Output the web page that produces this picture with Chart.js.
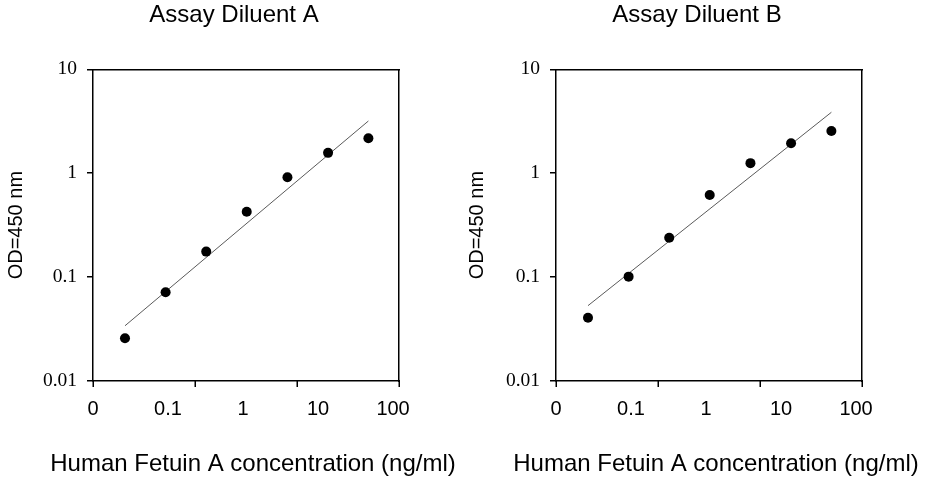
<!DOCTYPE html>
<html>
<head>
<meta charset="utf-8">
<script src="https://cdn.jsdelivr.net/npm/chart.js@4"></script>
<style>
html,body{margin:0;padding:0;background:#fff;width:926px;height:480px;overflow:hidden}
.p{position:absolute;top:0;height:480px}
#wa{left:0;width:468px}
#wb{left:468px;width:458px}
canvas{display:block}
</style>
</head>
<body>
<div class="p" id="wa"><canvas id="ca" width="468" height="480" style="width:468px;height:480px"></canvas></div>
<div class="p" id="wb"><canvas id="cb" width="458" height="480" style="width:458px;height:480px"></canvas></div>
<script>
// ---- data ----
const concentration = [0.0267, 0.0929, 0.323, 1.12, 3.91, 13.6, 46.9];
const odDiluentA = [0.0258, 0.0714, 0.176, 0.426, 0.913, 1.57, 2.17];
const odDiluentB = [0.0407, 0.101, 0.239, 0.617, 1.25, 1.94, 2.55];
const fitX = [0.0267, 46.9];
const fitDiluentA = [0.034, 3.18];
const fitDiluentB = [0.0531, 3.86];
const xTickValues = [0.01, 0.1, 1, 10, 100];
const xTickLabels = ['0', '0.1', '1', '10', '100'];
const yTickValues = [0.01, 0.1, 1, 10];
const yTickLabels = ['0.01', '0.1', '1', '10'];
const panelTitles = ['Assay Diluent A', 'Assay Diluent B'];
const xAxisTitle = 'Human Fetuin A concentration (ng/ml)';
const yAxisTitle = 'OD=450 nm';

const SANS = "'Liberation Sans', Arial, sans-serif";
const SERIF = "'Liberation Serif', 'Times New Roman', serif";
Chart.defaults.font.family = SANS;
Chart.defaults.color = '#000';

// tick marks on the x axis (evenly spaced, as in the original figure)
const xTickMarks = {
  id: 'xTickMarks',
  afterDraw(chart) {
    const a = chart.chartArea, ctx = chart.ctx;
    ctx.save();
    ctx.strokeStyle = '#000';
    ctx.lineWidth = 1.5;
    [0, 1/3, 2/3, 1].forEach(f => {
      const x = Math.round(a.left + f * (a.right - a.left)) + 0.25;
      ctx.beginPath();
      ctx.moveTo(x, a.bottom);
      ctx.lineTo(x, a.bottom + 6);
      ctx.stroke();
    });
    ctx.restore();
  }
};

// x axis title (wider than the plot, so drawn unconstrained)
const xTitle = {
  id: 'xTitle',
  afterDraw(chart, args, opts) {
    const a = chart.chartArea, ctx = chart.ctx;
    ctx.save();
    ctx.fillStyle = '#000';
    ctx.font = '24px ' + SANS;
    ctx.textAlign = 'center';
    ctx.textBaseline = 'middle';
    ctx.fillText(opts.text, (a.left + a.right) / 2 + 7, 464.5);
    ctx.restore();
  }
};

function makeChart(id, title, od, fit, g) {
  const border = {display: true, color: '#000', width: 1.5};
  return new Chart(document.getElementById(id), {
    type: 'scatter',
    data: {
      datasets: [
        {
          label: title,
          data: concentration.map((x, i) => ({x: x, y: od[i]})),
          pointRadius: 5,
          pointBackgroundColor: '#000',
          pointBorderColor: '#000',
          pointBorderWidth: 0,
          showLine: false
        },
        {
          label: 'fit',
          data: fitX.map((x, i) => ({x: x, y: fit[i]})),
          showLine: true,
          pointRadius: 0,
          borderColor: '#5a5a5a',
          borderWidth: 1
        }
      ]
    },
    options: {
      responsive: false,
      animation: false,
      layout: {padding: 0},
      plugins: {
        legend: {display: false},
        tooltip: {enabled: false},
        title: {
          display: true,
          text: title,
          color: '#000',
          font: {family: SANS, size: 24, weight: 'normal', lineHeight: 1.2},
          padding: {top: 1, bottom: 0}
        },
        xTitle: {text: xAxisTitle}
      },
      scales: {
        x: {
          type: 'logarithmic',
          position: 'bottom',
          min: 0.01,
          max: 120,
          afterBuildTicks: s => { s.ticks = xTickValues.map(v => ({value: v})); },
          afterFit: s => { s.height = 99; },
          ticks: {
            callback: v => xTickLabels[xTickValues.indexOf(v)],
            font: {family: SANS, size: 20},
            color: '#000',
            padding: 16,
            autoSkip: false,
            maxRotation: 0
          },
          grid: {display: false, drawTicks: false},
          border: border
        },
        y: {
          type: 'logarithmic',
          position: 'left',
          min: 0.01,
          max: 10,
          afterBuildTicks: s => { s.ticks = yTickValues.map(v => ({value: v})); },
          afterFit: s => { s.width = g.yWidth; },
          ticks: {
            callback: v => yTickLabels[yTickValues.indexOf(v)],
            font: {family: SERIF, size: 19.5},
            color: '#000',
            padding: 10,
            autoSkip: false
          },
          grid: {drawOnChartArea: false, drawTicks: true, tickLength: 6, color: '#000', lineWidth: 1.5},
          border: border,
          title: {
            display: true,
            text: yAxisTitle,
            color: '#000',
            font: {family: SANS, size: 20, lineHeight: 0.9},
            padding: {top: g.yTitlePad, bottom: 0}
          }
        },
        x2: {
          type: 'linear',
          position: 'top',
          afterFit: s => { s.height = 39.5; },
          ticks: {display: false},
          grid: {display: false, drawTicks: false},
          border: border
        },
        y2: {
          type: 'linear',
          position: 'right',
          afterFit: s => { s.width = g.rightWidth; },
          ticks: {display: false},
          grid: {display: false, drawTicks: false},
          border: border
        }
      }
    },
    plugins: [xTickMarks, xTitle]
  });
}

makeChart('ca', panelTitles[0], odDiluentA, fitDiluentA, {yWidth: 93, rightWidth: 69, yTitlePad: 7});
makeChart('cb', panelTitles[1], odDiluentB, fitDiluentB, {yWidth: 88, rightWidth: 64, yTitlePad: 0});
</script>
</body>
</html>
